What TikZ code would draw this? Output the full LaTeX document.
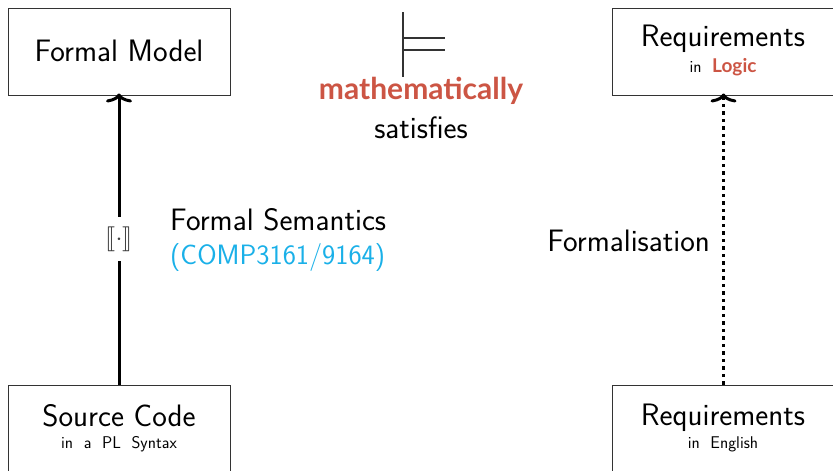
\documentclass[tikz,border=0pt]{standalone}
\usepackage{fontspec}
\usepackage{stmaryrd}
\usetikzlibrary{arrows.meta}
\newfontfamily\latofont{Lato}
\definecolor{accred}{HTML}{CC5544}
\definecolor{acccyan}{HTML}{1AB0E8}
\definecolor{boxgrey}{HTML}{333333}
\tikzset{
  boxnode/.style={draw=boxgrey, line width=1pt, minimum width=222pt, minimum height=87pt, inner sep=0pt},
  txt/.style={font=\sffamily\fontsize{31}{36}\selectfont, inner sep=0pt},
  subtxt/.style={font=\sffamily\fontsize{17}{20}\selectfont, inner sep=0pt},
  mainarrow/.style={line width=3pt, -{Computer Modern Rightarrow[length=9pt,width=26pt,line width=3pt]}},
  dotarrow/.style={line width=3.5pt, dash pattern=on 3.5pt off 4pt, -{Computer Modern Rightarrow[length=9pt,width=26pt,line width=3pt]}}
}
\begin{document}
\begin{tikzpicture}[x=1pt,y=-1pt]
\useasboundingbox (0,0) rectangle (833,471);
\node[boxnode] (fm) at (119,51.5) {};
\node[boxnode] (rl) at (723.5,51.5) {};
\node[boxnode] (sc) at (119,428.5) {};
\node[boxnode] (re) at (723.5,428.5) {};
\node[txt] (fmt) at (119,51) {Formal Model};
\node[txt] (rlt) at (723,39) {Requirements};
\node[subtxt] (rls) at (723,67) {in~ {\latofont\bfseries\fontsize{19}{22}\selectfont\color{accred}Logic}};
\node[txt] (sct) at (119,416) {Source Code};
\node[subtxt] (scs) at (119,444) {in~ a~ PL~ Syntax};
\node[txt] (ret) at (723,418) {Requirements};
\node[subtxt] (res) at (723,444) {in~ English};
% arrows
\draw[mainarrow] (sc.north) -- ([yshift=2pt]fm.south)
  node[pos=0.5, fill=white, inner ysep=10pt, inner xsep=2pt, font=\fontsize{31}{34}\selectfont, text=black!75] (sem) {$\llbracket\cdot\rrbracket$};
\draw[dotarrow] (re.north) -- ([yshift=2pt]rl.south);
% labels
\node[txt, anchor=west] (fs) at (170,220) {Formal Semantics};
\node[txt, anchor=west, text=acccyan, font=\sffamily\fontsize{28}{32}\selectfont] (comp) at (170,258) {(COMP3161/9164)};
\node[txt, anchor=east] (fo) at (710,241) {Formalisation};
% models symbol
\coordinate (mt) at (403,12);
\coordinate (mb) at (403,77);
\coordinate (m1) at (445,38);
\coordinate (m2) at (445,50);
\draw[boxgrey, line width=2pt] (mt) -- (mb);
\draw[boxgrey, line width=1.8pt] (403,38) -- (m1);
\draw[boxgrey, line width=1.8pt] (403,50) -- (m2);
\node[font=\latofont\bfseries\fontsize{30}{34}\selectfont, text=accred, inner sep=0pt] (math) at (421,91) {mathematically};
\node[txt] (sat) at (421,128) {satisfies};
\end{tikzpicture}
\end{document}
